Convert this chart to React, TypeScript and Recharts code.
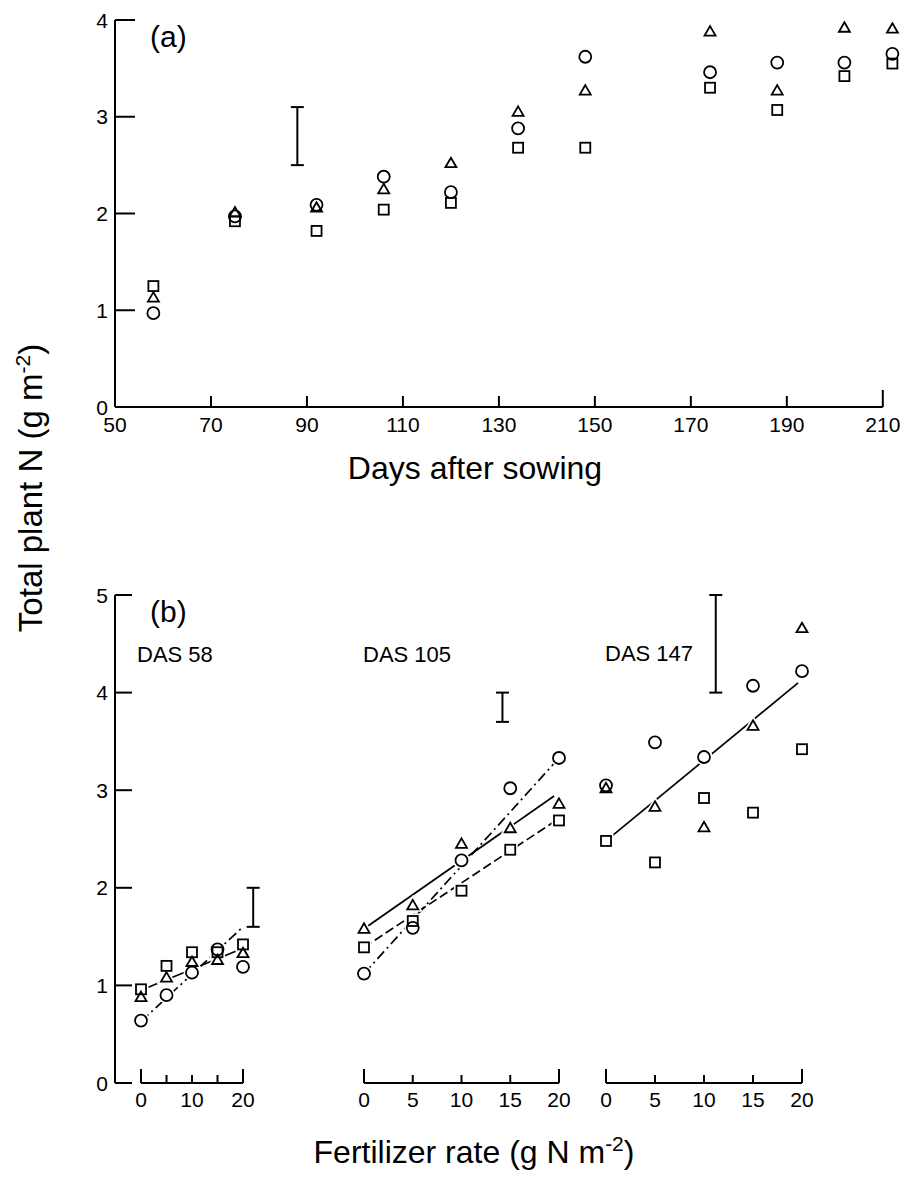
import React from 'react';
import { ComposedChart, Scatter, Line, XAxis, YAxis, ErrorBar, ReferenceLine } from 'recharts';

const FONT = '"Liberation Sans", Arial, Helvetica, sans-serif';

// (a) total plant N over the season
const daysAfterSowing = [58, 75, 92, 106, 120, 134, 148, 174, 188, 202, 212];
const circleA = [0.97, 1.97, 2.09, 2.38, 2.22, 2.88, 3.62, 3.46, 3.56, 3.56, 3.65];
const triangleA = [1.13, 2.01, 2.06, 2.25, 2.52, 3.05, 3.27, 3.88, 3.27, 3.92, 3.91];
const squareA = [1.25, 1.92, 1.82, 2.04, 2.11, 2.68, 2.68, 3.3, 3.07, 3.42, 3.55];
const lsdA = [{ x: 88, y: 2.8, err: 0.3 }];
const dayTicks = [50, 70, 90, 110, 130, 150, 170, 190, 210];
const nTicksA = [0, 1, 2, 3, 4];

// (b) response to fertilizer rate at three harvests
const rates = [0, 5, 10, 15, 20];
const circle58 = [0.64, 0.9, 1.13, 1.37, 1.19];
const triangle58 = [0.88, 1.08, 1.24, 1.26, 1.33];
const square58 = [0.96, 1.2, 1.34, 1.34, 1.42];
const circle105 = [1.12, 1.59, 2.28, 3.02, 3.33];
const triangle105 = [1.58, 1.82, 2.45, 2.61, 2.86];
const square105 = [1.39, 1.66, 1.97, 2.39, 2.69];
const circle147 = [3.05, 3.49, 3.34, 4.07, 4.22];
const triangle147 = [3.02, 2.83, 2.62, 3.66, 4.66];
const square147 = [2.48, 2.26, 2.92, 2.77, 3.42];

// fitted lines (end points)
const fit58Solid = [{ x: 0, y: 0.95 }, { x: 20, y: 1.38 }];
const fit58DashDot = [{ x: 0, y: 0.63 }, { x: 20, y: 1.6 }];
const fit105Solid = [{ x: 0, y: 1.58 }, { x: 19.5, y: 2.94 }];
const fit105Dashed = [{ x: 0, y: 1.39 }, { x: 20, y: 2.71 }];
const fit105DashDot = [{ x: 0, y: 1.12 }, { x: 20, y: 3.33 }];
const fit147Solid = [{ x: 0, y: 2.48 }, { x: 19.6, y: 4.1 }];

const lsd58 = [{ x: 22, y: 1.8, err: 0.2 }];
const lsd105 = [{ x: 14.2, y: 3.85, err: 0.15 }];
const lsd147 = [{ x: 11.2, y: 4.5, err: 0.5 }];
const nTicksB = [0, 1, 2, 3, 4, 5];

const pts = (xs: number[], ys: number[]) => xs.map((x, i) => ({ x, y: ys[i] }));

const DASHED = '9 4';
const DASH_DOT = '10 4 2 4';

type Kind = 'circle' | 'triangle' | 'square';

const Mark = ({ cx, cy, kind, halo }: { cx?: number; cy?: number; kind: Kind; halo?: boolean }) => {
  if (cx == null || cy == null) return <g />;
  const stroke = halo ? '#fff' : '#000';
  const sw = halo ? 5 : 1.8;
  const fill = halo ? '#fff' : 'none';
  if (kind === 'circle') return <circle cx={cx} cy={cy} r={6} stroke={stroke} strokeWidth={sw} fill={fill} />;
  if (kind === 'square')
    return <rect x={cx - 5} y={cy - 5} width={10} height={10} stroke={stroke} strokeWidth={sw} fill={fill} />;
  return (
    <polygon
      points={`${cx},${cy - 5.5} ${cx + 5.5},${cy + 4} ${cx - 5.5},${cy + 4}`}
      stroke={stroke}
      strokeWidth={sw}
      fill={fill}
      strokeLinejoin="miter"
    />
  );
};

// inward tick + label for a left axis (tickSize 0, tickMargin 7)
const YTick = (props: any) => {
  const { x, y, payload, len } = props;
  const ax = x + 7;
  return (
    <g>
      <line x1={ax} x2={ax + len} y1={y} y2={y} stroke="#000" strokeWidth={2} />
      <text x={x} y={y} dy="0.36em" textAnchor="end" fontSize={21} fontFamily={FONT} fill="#000">
        {payload.value}
      </text>
    </g>
  );
};

// inward tick + label for a bottom axis
const XTick = (props: any) => {
  const { x, y, payload, gap, len, longAt, showLabel } = props;
  const ay = y - gap;
  const l = longAt.includes(payload.value) ? len + 6 : len;
  return (
    <g>
      <line x1={x} x2={x} y1={ay} y2={ay - l} stroke="#000" strokeWidth={2} />
      {showLabel(payload.value) && (
        <text x={x} y={y} dy="0.71em" textAnchor="middle" fontSize={21} fontFamily={FONT} fill="#000">
          {payload.value}
        </text>
      )}
    </g>
  );
};

const ErrBar = ({ data }: { data: { x: number; y: number; err: number }[] }) => (
  <Scatter data={data} dataKey="y" shape={() => <g />} isAnimationActive={false}>
    <ErrorBar dataKey="err" direction="y" width={6.5} stroke="#000" strokeWidth={2} isAnimationActive={false} />
  </Scatter>
);

const PanelA = () => (
  <ComposedChart width={903} height={480} margin={{ top: 20, right: 1, bottom: 33, left: 65 }}>
    <XAxis
      type="number"
      dataKey="x"
      domain={[50, 214]}
      ticks={dayTicks}
      interval={0}
      height={40}
      axisLine={false}
      tickLine={false}
      tickSize={0}
      tickMargin={10}
      tick={(p: any) => <XTick {...p} gap={10} len={11} longAt={[210]} showLabel={() => true} />}
    />
    <YAxis
      type="number"
      dataKey="y"
      domain={[0, 4]}
      ticks={nTicksA}
      interval={0}
      width={50}
      axisLine={{ stroke: '#000', strokeWidth: 2 }}
      tickLine={false}
      tickSize={0}
      tickMargin={7}
      tick={(p: any) => <YTick {...p} len={20} />}
    />
    <ReferenceLine segment={[{ x: 50, y: 0 }, { x: 210, y: 0 }]} stroke="#000" strokeWidth={2} />
    <Scatter data={pts(daysAfterSowing, squareA)} dataKey="y" isAnimationActive={false} shape={(p: any) => <Mark cx={p.cx} cy={p.cy} kind="square" />} />
    <Scatter data={pts(daysAfterSowing, triangleA)} dataKey="y" isAnimationActive={false} shape={(p: any) => <Mark cx={p.cx} cy={p.cy} kind="triangle" />} />
    <Scatter data={pts(daysAfterSowing, circleA)} dataKey="y" isAnimationActive={false} shape={(p: any) => <Mark cx={p.cx} cy={p.cy} kind="circle" />} />
    {ErrBar({ data: lsdA })}
  </ComposedChart>
);

type Fit = { data: { x: number; y: number }[]; dash?: string };

const subPanels = [
  {
    key: 'd58',
    width: 270,
    margin: { top: 35, right: 11.7, bottom: 7, left: 65 },
    domain: [-5.1, 23],
    showY: true,
    labels: [0, 10, 20],
    circle: circle58,
    triangle: triangle58,
    square: square58,
    fits: [{ data: fit58Solid }, { data: fit58DashDot, dash: DASH_DOT }] as Fit[],
    lsd: lsd58,
  },
  {
    key: 'd105',
    width: 903,
    margin: { top: 35, right: 334.25, bottom: 7, left: 354.25 },
    domain: [-1, 21],
    showY: false,
    labels: rates,
    circle: circle105,
    triangle: triangle105,
    square: square105,
    fits: [{ data: fit105Solid }, { data: fit105Dashed, dash: DASHED }, { data: fit105DashDot, dash: DASH_DOT }] as Fit[],
    lsd: lsd105,
  },
  {
    key: 'd147',
    width: 903,
    margin: { top: 35, right: 91.2, bottom: 7, left: 596.2 },
    domain: [-1, 21],
    showY: false,
    labels: rates,
    circle: circle147,
    triangle: triangle147,
    square: square147,
    fits: [{ data: fit147Solid }] as Fit[],
    lsd: lsd147,
  },
];

const kinds: Kind[] = ['triangle', 'square', 'circle'];

const SubPanel = ({ cfg }: { cfg: (typeof subPanels)[number] }) => {
  const series: Record<Kind, number[]> = { circle: cfg.circle, triangle: cfg.triangle, square: cfg.square };
  return (
    <div style={{ position: 'absolute', left: 0, top: 560 }}>
      <ComposedChart width={cfg.width} height={560} margin={cfg.margin}>
        <XAxis
          type="number"
          dataKey="x"
          domain={cfg.domain}
          ticks={rates}
          interval={0}
          height={30}
          axisLine={false}
          tickLine={false}
          tickSize={0}
          tickMargin={9}
          tick={(p: any) => (
            <XTick {...p} gap={9} len={8} longAt={[0, 20]} showLabel={(v: number) => cfg.labels.includes(v)} />
          )}
        />
        {cfg.showY ? (
          <YAxis
            type="number"
            dataKey="y"
            domain={[0, 5]}
            ticks={nTicksB}
            interval={0}
            width={50}
            axisLine={{ stroke: '#000', strokeWidth: 2 }}
            tickLine={false}
            tickSize={0}
            tickMargin={7}
            tick={(p: any) => <YTick {...p} len={17} />}
          />
        ) : (
          <YAxis type="number" dataKey="y" domain={[0, 5]} hide />
        )}
        <ReferenceLine segment={[{ x: 0, y: 0 }, { x: 20, y: 0 }]} stroke="#000" strokeWidth={2} />
        {cfg.fits.map((f, i) => (
          <Line
            key={`fit-${i}`}
            data={f.data}
            dataKey="y"
            type="linear"
            stroke="#000"
            strokeWidth={1.7}
            strokeDasharray={f.dash}
            dot={false}
            activeDot={false}
            isAnimationActive={false}
          />
        ))}
        {kinds.map((k) => (
          <Scatter
            key={`halo-${k}`}
            data={pts(rates, series[k])}
            dataKey="y"
            isAnimationActive={false}
            shape={(p: any) => <Mark cx={p.cx} cy={p.cy} kind={k} halo />}
          />
        ))}
        {kinds.map((k) => (
          <Scatter
            key={`mark-${k}`}
            data={pts(rates, series[k])}
            dataKey="y"
            isAnimationActive={false}
            shape={(p: any) => <Mark cx={p.cx} cy={p.cy} kind={k} />}
          />
        ))}
        {ErrBar({ data: cfg.lsd })}
      </ComposedChart>
    </div>
  );
};

export default function App() {
  return (
    <div style={{ position: 'absolute', left: 0, top: 0, width: 903, height: 1178, background: '#fff' }}>
      <div style={{ position: 'absolute', left: 0, top: 0 }}>
        <PanelA />
      </div>
      {subPanels.map((cfg) => (
        <SubPanel key={cfg.key} cfg={cfg} />
      ))}
      <svg
        width={903}
        height={1178}
        style={{ position: 'absolute', left: 0, top: 0, pointerEvents: 'none' }}
        fontFamily={FONT}
        fill="#000"
      >
        <text x={150} y={47} fontSize={30}>(a)</text>
        <text x={150} y={622} fontSize={30}>(b)</text>
        <text x={137} y={662} fontSize={22}>DAS 58</text>
        <text x={363} y={662} fontSize={22}>DAS 105</text>
        <text x={605} y={661} fontSize={22}>DAS 147</text>
        <text x={475} y={479} fontSize={32} textAnchor="middle">Days after sowing</text>
        <text x={474} y={1163} fontSize={32} textAnchor="middle">
          Fertilizer rate (g N m<tspan dy={-12} fontSize={21}>-2</tspan>
          <tspan dy={12}>)</tspan>
        </text>
        <text transform="translate(42,488) rotate(-90)" fontSize={33} textAnchor="middle">
          Total plant N (g m<tspan dy={-12} fontSize={21}>-2</tspan>
          <tspan dy={12}>)</tspan>
        </text>
      </svg>
    </div>
  );
}
